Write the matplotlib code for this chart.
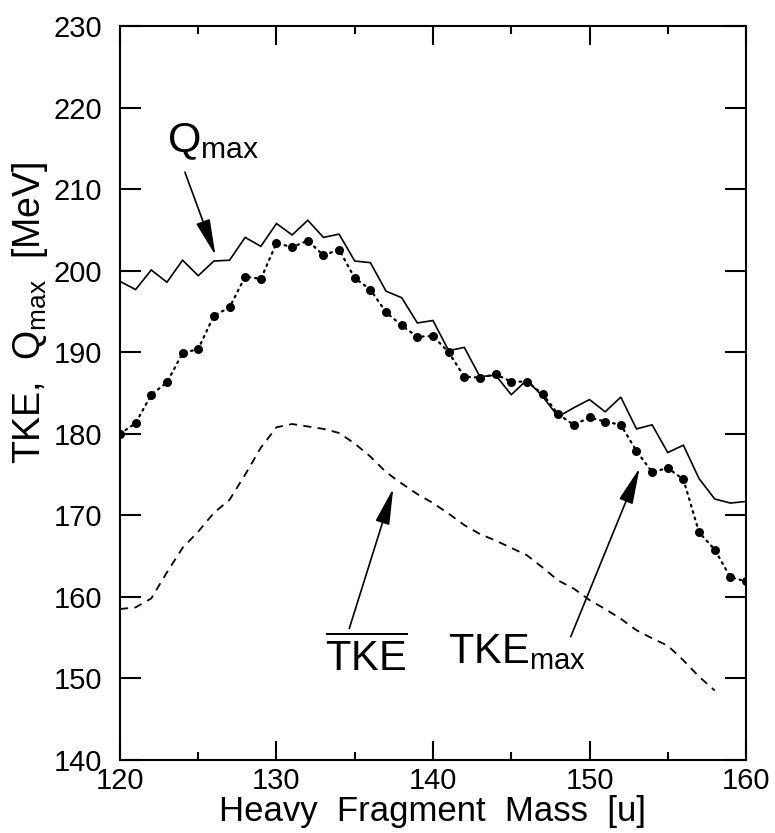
import numpy as np
import matplotlib
matplotlib.use("Agg")
import matplotlib.pyplot as plt

plt.rcParams['font.family'] = ['Liberation Sans', 'DejaVu Sans']
plt.rcParams['mathtext.fontset'] = 'custom'
plt.rcParams['mathtext.rm'] = 'Liberation Sans'
plt.rcParams['mathtext.it'] = 'Liberation Sans'
plt.rcParams['mathtext.bf'] = 'Liberation Sans'

# ---- data ----
mass = list(range(120, 161))
q_max = [198.7, 197.7, 200.1, 198.6, 201.3, 199.4, 201.2, 201.3, 204.1, 203.0,
         205.8, 204.4, 206.2, 204.1, 204.5, 201.2, 201.0, 197.5, 196.7, 193.6,
         193.9, 190.2, 190.6, 187.0, 187.2, 184.8, 186.6, 184.6, 182.1, 183.2,
         184.2, 182.7, 184.5, 180.6, 181.1, 177.7, 178.6, 174.5, 172.0, 171.5,
         171.7]
tke_max = [180.0, 181.3, 184.8, 186.3, 189.9, 190.4, 194.5, 195.5, 199.3, 199.0,
           203.4, 202.9, 203.7, 201.9, 202.6, 199.1, 197.7, 194.9, 193.3, 191.9,
           192.0, 190.0, 187.0, 186.9, 187.3, 186.4, 186.4, 184.9, 182.4, 181.1,
           182.0, 181.5, 181.1, 177.9, 175.3, 175.8, 174.4, 167.9, 165.8, 162.4,
           161.9]
mass_mean = list(range(120, 159))
tke_mean = [158.5, 158.7, 159.8, 163.0, 166.0, 168.0, 170.3, 171.9, 175.0, 178.3,
            180.8, 181.2, 180.9, 180.6, 180.1, 178.8, 177.2, 175.3, 173.9, 172.6,
            171.5, 170.2, 168.8, 167.7, 166.9, 166.0, 165.1, 163.6, 162.0, 161.0,
            159.6, 158.5, 157.3, 155.9, 154.9, 154.0, 152.2, 150.2, 148.5]

x_ticks = [120, 130, 140, 150, 160]
x_minor = [125, 135, 145, 155]
y_ticks = [140, 150, 160, 170, 180, 190, 200, 210, 220, 230]

fig = plt.figure(figsize=(7.75, 8.33), dpi=100)
ax = fig.add_axes([0.1548, 0.0879, 0.9626 - 0.1548, 0.9684 - 0.0879])

ax.plot(mass, q_max, color='black', lw=1.2, solid_joinstyle='miter')
ax.plot(mass, tke_max, color='black', lw=1.6, linestyle=(0, (0.8, 2.2)),
        dash_capstyle='round', marker='o', markersize=6.5, markeredgewidth=0)
ax.plot(mass_mean, tke_mean, color='black', lw=1.3, linestyle=(0, (4.5, 3.5)))

ax.set_xlim(120, 160)
ax.set_ylim(140, 230)
ax.set_xticks(x_ticks)
ax.set_xticks(x_minor, minor=True)
ax.set_yticks(y_ticks)
ax.tick_params(axis='both', which='both', direction='in', top=True, right=True,
               width=1.5, labelsize=21)
ax.tick_params(axis='x', which='major', length=14, pad=5)
ax.tick_params(axis='x', which='minor', length=6)
ax.tick_params(axis='y', which='major', length=15, pad=13)
for s in ax.spines.values():
    s.set_linewidth(1.5)

ax.set_xlabel('Heavy  Fragment  Mass  [u]', fontsize=25, labelpad=0)
ax.set_ylabel(r'TKE,  Q$_{\mathrm{max}}$  [MeV]', fontsize=27, va='center')
ax.yaxis.set_label_coords(-0.143, 0.61)

arrow_kw = dict(arrowstyle='-|>,head_length=1.4,head_width=0.28', color='black',
                lw=1.2, shrinkA=0, shrinkB=0, mutation_scale=16)

ax.text(123.0, 214.5, r'Q$_{\mathrm{max}}$', fontsize=31, ha='left', va='baseline')
ax.annotate('', xy=(126.1, 201.9), xytext=(124.15, 212.1), arrowprops=arrow_kw)

ax.text(133.1, 150.9, r'$\overline{\mathrm{TKE}}$', fontsize=30, ha='left', va='baseline')
ax.annotate('', xy=(137.46, 173.3), xytext=(134.65, 156.1), arrowprops=arrow_kw)

ax.text(140.96, 151.9, r'TKE$_{\mathrm{max}}$', fontsize=30, ha='left', va='baseline')
ax.annotate('', xy=(153.2, 175.8), xytext=(148.8, 155.1), arrowprops=arrow_kw)

fig.savefig('out.png', dpi=100)
